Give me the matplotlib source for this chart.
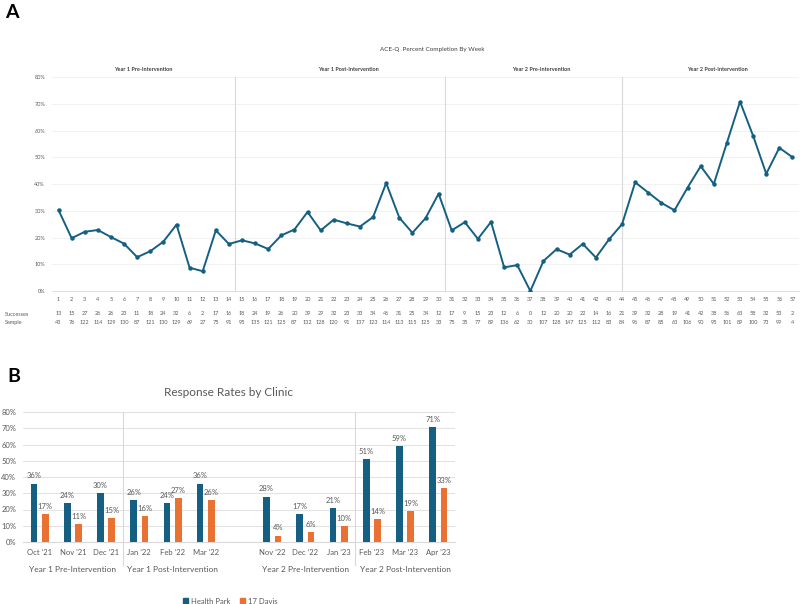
import numpy as np
import matplotlib
matplotlib.use("Agg")
import matplotlib.pyplot as plt
from matplotlib.patches import Patch

plt.rcParams['font.family'] = ['Lato', 'DejaVu Sans']

# ---------------- Panel A data ----------------
weeks = list(range(1, 58))
successes = [13, 15, 27, 26, 26, 23, 11, 18, 24, 32, 6, 2, 17, 16, 18, 24, 19, 26, 20, 39,
             29, 32, 23, 33, 34, 46, 31, 25, 34, 12,
             17, 9, 15, 23, 12, 6, 0, 12, 20, 20, 22, 14, 16, 21, 39, 32, 28, 19, 41, 42,
             38, 56, 63, 58, 32, 53, 2]
sample = [43, 76, 122, 114, 129, 130, 87, 121, 130, 129, 69, 27, 75, 91, 95, 135, 121, 125, 87, 132,
          128, 120, 91, 137, 123, 114, 113, 115, 125, 33,
          75, 35, 77, 89, 136, 62, 30, 107, 128, 147, 125, 112, 83, 84, 96, 87, 85, 63, 106, 90,
          95, 101, 89, 100, 73, 99, 4]
phases = ["Year 1 Pre-Intervention", "Year 1 Post-Intervention",
          "Year 2 Pre-Intervention", "Year 2 Post-Intervention"]
phase_bounds = [0.5, 14.5, 30.5, 44, 57.5]

# ---------------- Panel B data ----------------
months = ["Oct \u201921", "Nov \u201921", "Dec \u201921", "Jan \u201922", "Feb \u201922", "Mar \u201922",
          "Nov \u201922", "Dec \u201922", "Jan \u201923", "Feb \u201923", "Mar \u201923", "Apr \u201923"]
health_park = [36, 24, 30, 26, 24, 36, 28, 17, 21, 51, 59, 71]
davis = [17, 11, 15, 16, 27, 26, 4, 6, 10, 14, 19, 33]

BLUE = '#156082'
ORANGE = '#E97132'
GRID = '#E3E3E3'
TXT = '#595959'

fig = plt.figure(figsize=(8, 6.04), dpi=100)

# ================= Panel A =================
axA = fig.add_axes([52/800, 1-291/604, (799-52)/800, (291-77)/604])
pct = np.array(successes) / np.array(sample) * 100
axA.plot(weeks, pct, color=BLUE, lw=1.4, marker='o', ms=2.2, zorder=3)
axA.set_xlim(0.5, 57.5)
axA.set_ylim(0, 80)
axA.set_yticks(np.arange(0, 81, 10))
axA.set_yticklabels([f"{v}%" for v in range(0, 81, 10)])
axA.set_xticks(weeks)
axA.set_xticklabels([str(w) for w in weeks])
axA.tick_params(axis='both', length=0, labelsize=4, labelcolor=TXT, pad=4)
axA.tick_params(axis='y', pad=5)
axA.grid(axis='y', color='#F0F0F0', lw=0.6)
axA.set_axisbelow(True)
for s in ['top', 'right', 'left']:
    axA.spines[s].set_visible(False)
axA.spines['bottom'].set_color('#D9D9D9')
axA.spines['bottom'].set_linewidth(0.6)
for b in phase_bounds[1:-1]:
    axA.axvline(b, color='#D9D9D9', lw=0.8, zorder=1)
label_shift = [0, 0.6, 0.6, 0.5]
for i, ph in enumerate(phases):
    cx = (phase_bounds[i] + phase_bounds[i+1]) / 2 + label_shift[i]
    axA.text(cx, 1.033, ph, transform=axA.get_xaxis_transform(), ha='center', va='center',
             fontsize=4, color='#404040', fontweight='bold')
trA = axA.get_xaxis_transform()
for w, s_, n_ in zip(weeks, successes, sample):
    axA.text(w, -0.107, str(s_), transform=trA, ha='center', va='center', fontsize=4, color=TXT)
    axA.text(w, -0.148, str(n_), transform=trA, ha='center', va='center', fontsize=4, color=TXT)
fig.text(5/800, 1-314/604, "Successes", ha='left', va='center', fontsize=4, color=TXT)
fig.text(5/800, 1-322.6/604, "Sample", ha='left', va='center', fontsize=4, color=TXT)
fig.text(432/800, 1-50/604, "ACE-Q  Percent Completion By Week", ha='center', va='center',
         fontsize=4.5, color='#404040')
fig.text(5/800, 1-12/604, "A", ha='left', va='center', fontsize=14, fontweight='bold')

# ================= Panel B =================
axB = fig.add_axes([23/800, 1-542/604, (455-23)/800, (542-412)/604])
idx = np.arange(len(months))
pos = idx + (idx >= 6)
bw = 0.2
off = 0.17
bh = axB.bar(pos - off, health_park, width=bw, color=BLUE, label='Health Park', zorder=3)
bd = axB.bar(pos + off, davis, width=bw, color=ORANGE, label='17 Davis', zorder=3)
for r, v in zip(bh, health_park):
    axB.text(r.get_x() + r.get_width()/2, v + 2.5, f"{v}%", ha='center', va='bottom',
             fontsize=5.5, color=TXT)
for r, v in zip(bd, davis):
    axB.text(r.get_x() + r.get_width()/2, v + 2.5, f"{v}%", ha='center', va='bottom',
             fontsize=5.5, color=TXT)
axB.set_xlim(-0.5, 12.5)
axB.set_ylim(0, 80)
axB.set_yticks(np.arange(0, 81, 10))
axB.set_yticklabels([f"{v}%" for v in range(0, 81, 10)])
axB.set_xticks(pos)
axB.set_xticklabels(months)
axB.tick_params(axis='both', length=0, labelsize=5.5, labelcolor=TXT)
axB.tick_params(axis='y', pad=5)
axB.tick_params(axis='x', pad=5)
axB.grid(axis='y', color=GRID, lw=0.8)
axB.set_axisbelow(True)
for s in ['top', 'right', 'left']:
    axB.spines[s].set_visible(False)
axB.spines['bottom'].set_color('#D9D9D9')
trB = axB.get_xaxis_transform()
for b in [2.5, 9.5]:
    axB.plot([b, b], [1, -0.18], color='#D9D9D9', lw=0.8, transform=trB, clip_on=False)
group_centers = [1, 4, 8, 11]
for gc, ph in zip(group_centers, phases):
    axB.text(gc, -0.215, ph, transform=trB, ha='center', va='center', fontsize=6, color=TXT)
fig.text(229/800, 1-393/604, "Response Rates by Clinic", ha='center', va='center',
         fontsize=8.5, color=TXT)
fig.text(7/800, 1-376/604, "B", ha='left', va='center', fontsize=14, fontweight='bold')
fig.legend(handles=[Patch(color=BLUE, label='Health Park'), Patch(color=ORANGE, label='17 Davis')],
           loc='center', bbox_to_anchor=(230/800, 1-601/604), ncol=2, frameon=False,
           fontsize=5.5, handlelength=0.7, handleheight=0.7, handletextpad=0.4, columnspacing=1.2,
           labelcolor=TXT)

fig.savefig("out.png", dpi=100)
